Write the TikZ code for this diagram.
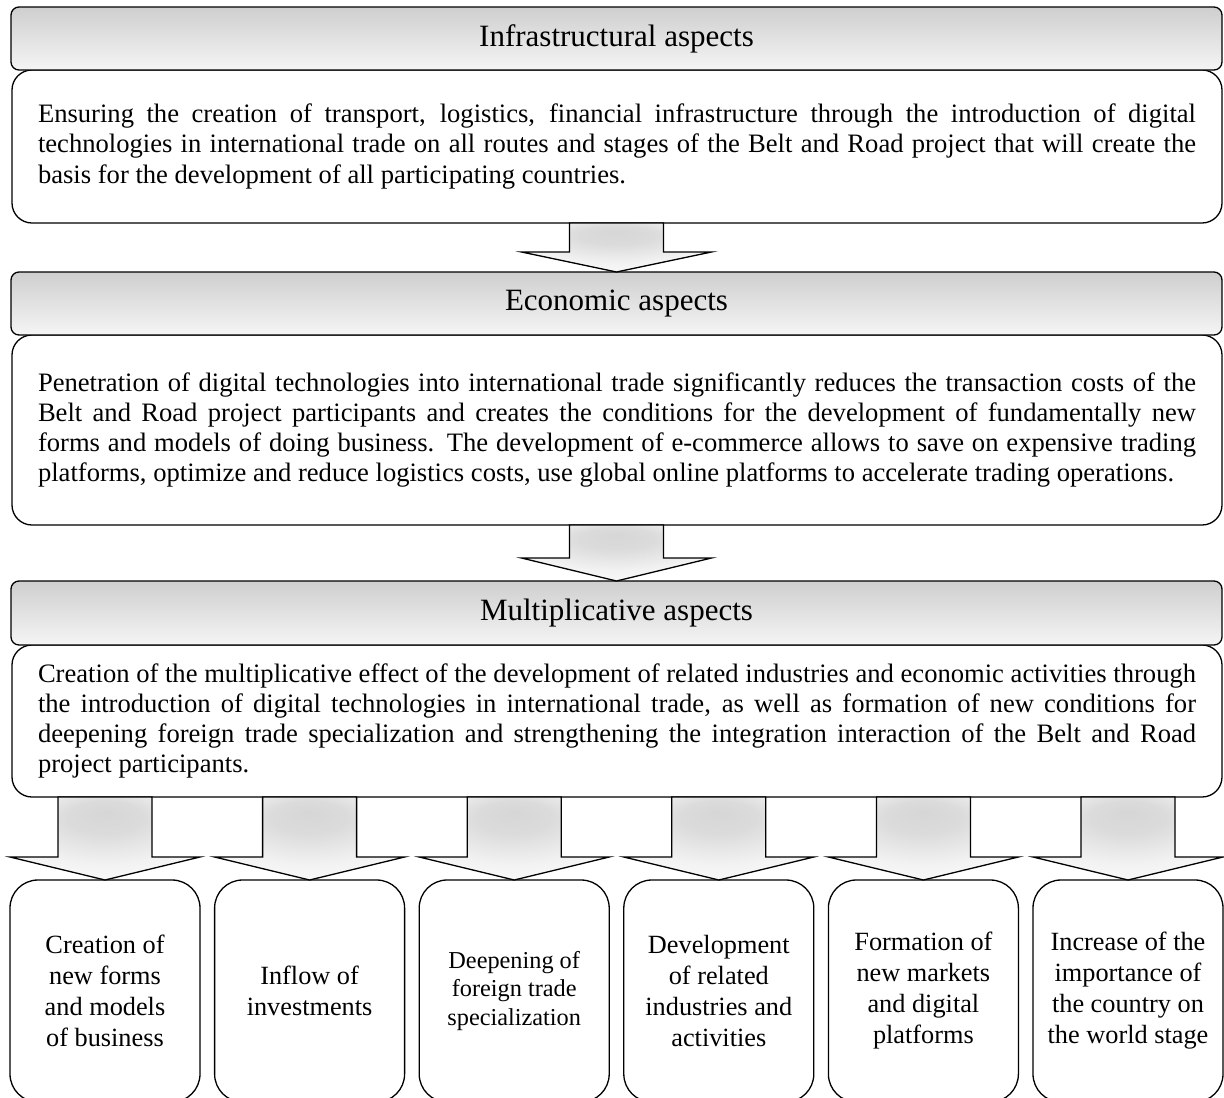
\documentclass[tikz,border=0pt]{standalone}
\usepackage{fontspec}
\setmainfont{Liberation Serif}
\usetikzlibrary{calc}

\pgfdeclareradialshading{arrowshade}{\pgfpoint{0bp}{16bp}}{color(0bp)=(black!16); color(10bp)=(black!14); color(24bp)=(black!5); color(40bp)=(white); color(50bp)=(white)}

\tikzset{
  hdrbar/.style={draw, line width=1.3pt, rounded corners=8pt, top color=black!19, bottom color=black!4,
    minimum width=1211pt, minimum height=63pt, inner sep=0pt, outer sep=0pt, font=\fontsize{31}{35}\selectfont},
  txtbox/.style={draw, line width=1.3pt, rounded corners=20pt, fill=white, minimum width=1210pt,
    inner sep=0pt, outer sep=0pt, text width=1158pt, align=justify, font=\fontsize{26.6}{30.3}\selectfont},
  outbox/.style={draw, line width=1.3pt, rounded corners=28pt, fill=white, minimum width=190pt,
    minimum height=222pt, inner sep=0pt, outer sep=0pt, align=center, font=\fontsize{26.3}{31}\selectfont},
  bigarrow/.style={draw, line width=1.3pt, shading=arrowshade}
}

% block arrow from the bottom of #1 to the top of #2, head height #3
\newcommand{\blockarrow}[3]{%
  \path[bigarrow] ($(#1.south -| #2.north)+(-47,0)$) -- ($(#2.north)+(-47,-#3)$) -- ($(#2.north)+(-95,-#3)$)
    -- (#2.north) -- ($(#2.north)+(95,-#3)$) -- ($(#2.north)+(47,-#3)$) -- ($(#1.south -| #2.north)+(47,0)$) -- cycle;}

\begin{document}
\begin{tikzpicture}[x=1pt,y=1pt,yscale=-1,xscale=1]
\useasboundingbox (0,0) rectangle (1224,1098);

%Text boxes
\node[txtbox, minimum height=153pt] (txtInfra) at (617,146.5) {Ensuring the creation of transport, logistics, financial infrastructure through the introduction of digital\linebreak technologies in international trade on all routes and stages of the Belt and Road project that will create the\linebreak basis for the development of all participating countries.};
\node[txtbox, minimum height=190pt] (txtEcon) at (617,430) {\parfillskip=0pt Penetration of digital technologies into international trade significantly reduces the transaction costs of the\linebreak Belt and Road project participants and creates the conditions for the development of fundamentally new\linebreak forms and models of doing business. The development of e-commerce allows to save on expensive trading\linebreak platforms, optimize and reduce logistics costs, use global online platforms to accelerate trading operations.};
\node[txtbox, minimum height=152pt] (txtMult) at (617,721) {Creation of the multiplicative effect of the development of related industries and economic activities through\linebreak the introduction of digital technologies in international trade, as well as formation of new conditions for\linebreak deepening foreign trade specialization and strengthening the integration interaction of the Belt and Road\linebreak project participants.};

%Header bars
\node[hdrbar] (hdrInfra) at (616.5,38.5) {Infrastructural aspects};
\node[hdrbar] (hdrEcon) at (616.5,303.5) {Economic aspects};
\node[hdrbar, minimum height=64pt] (hdrMult) at (616.5,613) {Multiplicative aspects};

%Result boxes
\node[outbox] (out1) at (105,991) {Creation of\\new forms\\and models\\of business};
\node[outbox] (out2) at (309.6,991) {Inflow of\\investments};
\node[outbox, font=\fontsize{24.3}{28.5}\selectfont] (out3) at (514.2,991) {Deepening of\\foreign trade\\specialization};
\node[outbox] (out4) at (718.8,991) {Development\\of related\\industries and\\activities};
\node[outbox] (out5) at (923.4,991) {Formation of\\new markets\\and digital\\platforms};
\node[outbox] (out6) at (1128,991) {Increase of the\\importance of\\the country on\\the world stage};

%Arrows
\blockarrow{txtInfra}{hdrEcon}{20}
\blockarrow{txtEcon}{hdrMult}{23}
\foreach \n in {1,...,6}
  \blockarrow{txtMult}{out\n}{23};

\end{tikzpicture}
\end{document}
